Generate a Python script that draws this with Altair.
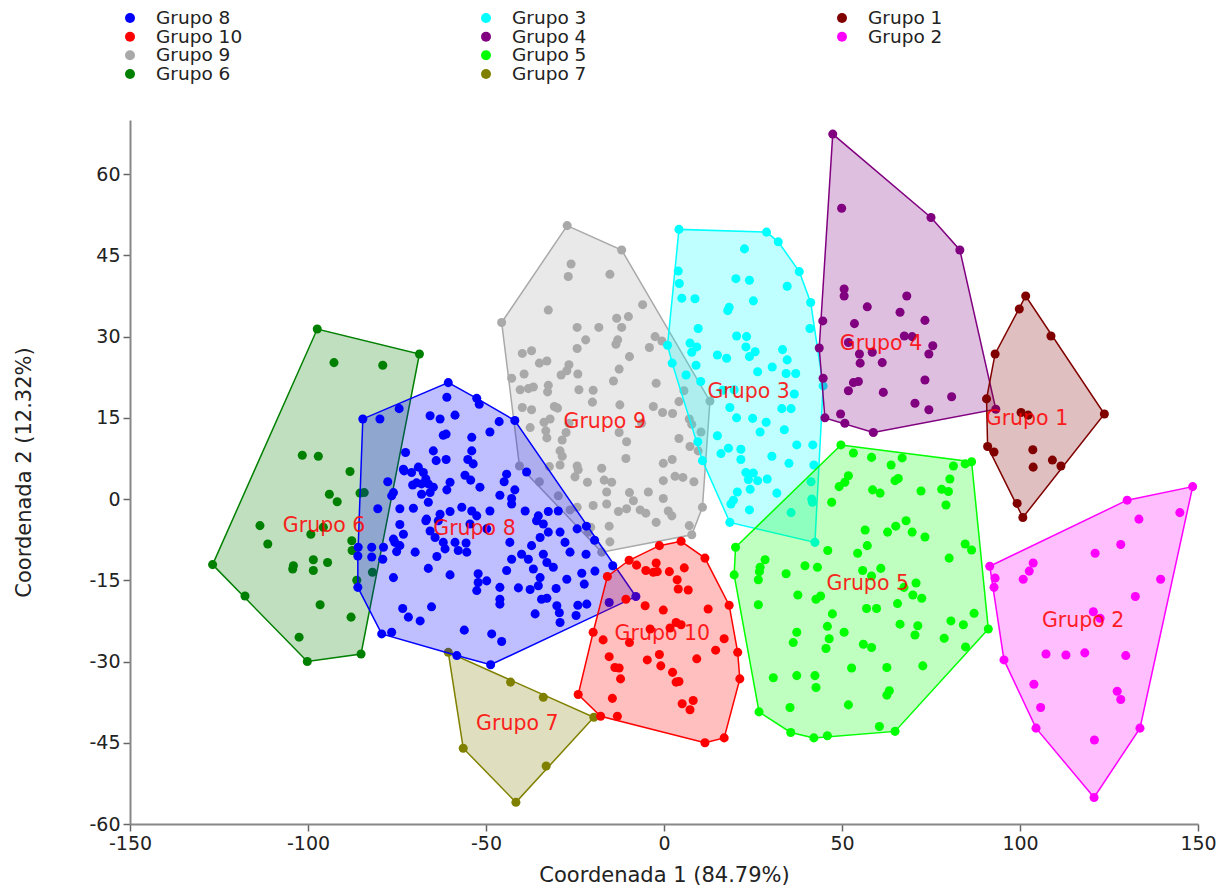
import altair as alt
import pandas as pd

FONT = "DejaVu Sans"

# ---- data ----
G1_X = [101.6, 99.8, 108.7, 93.0, 90.6, 123.7, 100.3, 102.3, 90.9, 92.7, 103.6, 103.7, 109.1, 111.5, 99.2, 100.8]
G1_Y = [37.5, 35.1, 30.1, 26.8, 18.5, 15.7, 16.0, 15.5, 9.7, 8.7, 9.1, 5.9, 7.2, 6.1, -0.8, -3.4]

G2_X = [148.5, 130.1, 133.4, 144.9, 121.1, 128.3, 91.5, 103.7, 102.6, 100.9, 93.0, 92.7, 139.5, 132.4, 120.6,
        122.5, 95.5, 107.3, 112.9, 118.2, 129.7, 103.9, 127.3, 128.3, 105.8, 104.5, 120.9, 133.7, 120.8]
G2_Y = [2.3, -0.2, -3.7, -2.5, -10.0, -8.4, -12.4, -11.8, -13.3, -14.8, -14.6, -16.3, -14.8, -18.0, -20.8,
        -22.0, -29.7, -28.6, -28.8, -28.4, -28.9, -34.2, -35.5, -37.0, -38.5, -42.3, -44.5, -42.3, -55.1]

G3_X = [4.2, 28.8, 32.1, 22.6, 4.0, 38.0, 20.2, 24.0, 4.3, 34.6, 5.0, 8.7, 25.1, 41.2, 18.3, 17.9, 9.6, 41.0,
        20.4, 23.2, 7.3, 9.2, 23.0, 1.0, 7.8, 25.6, 24.0, 33.3, 15.0, 17.6, 34.6, 2.3, 9.0, 30.4, 26.3, 34.3,
        37.0, 6.2, 10.3, 44.7, 16.5, 19.7, 36.6, 18.5, 33.1, 35.7, 20.4, 24.9, 28.7, 27.0, 33.8, 15.0, 9.5,
        37.3, 41.8, 18.1, 16.0, 21.6, 10.8, 21.6, 30.3, 35.1, 42.1, 23.0, 25.1, 23.7, 29.0, 26.3, 41.3, 24.2,
        20.6, 31.7, 19.5, 18.8, 41.5, 24.0, 41.7, 35.7, 18.5, 42.4]
G3_Y = [49.8, 49.3, 47.5, 46.2, 42.1, 42.0, 40.7, 40.4, 39.8, 39.3, 37.1, 37.0, 36.6, 36.3, 35.4, 34.8, 31.5,
        31.5, 30.1, 30.0, 28.8, 28.1, 28.1, 28.4, 27.1, 27.2, 26.3, 27.6, 26.6, 26.0, 25.7, 25.1, 24.7, 24.4,
        23.5, 23.2, 23.2, 22.9, 21.7, 20.9, 20.1, 20.2, 19.4, 16.9, 16.7, 16.7, 15.0, 14.9, 14.2, 12.4, 12.8,
        11.7, 10.6, 10.0, 10.0, 9.4, 8.4, 9.2, 7.1, 7.3, 7.9, 6.6, 6.3, 4.9, 4.8, 3.6, 3.7, 3.4, 3.2, 1.8,
        1.3, 1.1, -0.2, -0.9, 0.0, -2.0, -0.6, -2.5, -4.3, -8.0]

G4_X = [47.4, 49.9, 75.0, 83.1, 50.6, 50.6, 68.2, 57.1, 66.3, 44.6, 53.5, 73.3, 67.5, 69.7, 43.6, 51.8, 54.9,
        58.5, 75.5, 74.4, 55.1, 61.3, 44.7, 53.2, 54.6, 73.3, 51.8, 61.6, 80.8, 70.5, 74.4, 45.2, 49.6, 50.8,
        58.8, 93.2]
G4_Y = [67.4, 53.7, 52.0, 46.0, 38.8, 37.5, 37.5, 35.5, 34.5, 32.9, 32.4, 33.0, 30.1, 30.0, 27.9, 28.9, 26.8,
        27.1, 28.3, 26.8, 25.1, 25.2, 22.3, 21.5, 21.7, 22.0, 20.0, 19.7, 18.9, 17.7, 16.5, 15.0, 15.7, 14.0,
        12.3, 16.6]

G5_X = [49.7, 53.2, 58.3, 66.9, 63.8, 81.3, 84.6, 86.4, 51.8, 49.2, 50.8, 64.9, 65.8, 80.3, 58.6, 60.7, 72.2,
        78.0, 79.9, 47.1, 79.2, 68.0, 65.1, 62.8, 56.5, 69.7, 73.3, 20.1, 46.0, 57.1, 54.4, 84.6, 86.4, 28.4,
        27.0, 26.8, 26.5, 39.6, 43.1, 34.3, 55.8, 60.9, 58.3, 80.1, 19.7, 70.8, 67.4, 37.6, 42.7, 44.0, 69.9,
        72.4, 26.5, 65.6, 56.9, 59.7, 47.3, 87.1, 80.6, 84.1, 91.1, 66.3, 71.3, 70.5, 45.9, 50.6, 37.3, 36.3,
        46.4, 45.5, 56.0, 58.3, 78.7, 84.7, 52.7, 62.6, 72.7, 30.7, 37.3, 42.4, 42.7, 63.3, 62.6, 35.4, 51.8,
        26.7, 35.6, 42.1, 45.9, 60.5, 64.9]
G5_Y = [10.0, 8.5, 7.7, 7.6, 6.3, 6.1, 6.5, 6.9, 4.3, 2.3, 3.1, 3.4, 3.8, 3.7, 1.7, 1.1, 1.5, 1.8, 1.4, -0.6,
        -1.1, -4.0, -5.0, -6.1, -5.7, -6.1, -7.0, -8.9, -9.5, -8.6, -10.0, -8.3, -9.4, -11.2, -12.6, -13.4,
        -14.9, -12.3, -12.6, -13.8, -13.2, -12.8, -14.2, -10.9, -14.0, -15.5, -16.3, -17.7, -18.5, -17.9,
        -17.7, -18.3, -19.5, -19.3, -20.2, -20.2, -21.2, -21.1, -22.5, -23.2, -24.0, -23.1, -23.4, -25.1,
        -23.5, -24.6, -24.6, -26.5, -25.8, -27.6, -26.8, -27.4, -25.7, -27.3, -31.2, -31.1, -30.8, -33.0,
        -32.6, -32.6, -34.8, -35.4, -36.2, -38.5, -38.0, -39.3, -43.1, -44.1, -43.7, -42.0, -42.9]

G6_X = [-97.4, -68.7, -92.7, -79.0, -101.6, -97.1, -88.2, -94.0, -91.8, -85.4, -84.2, -113.5, -99.2, -95.7,
        -111.3, -87.7, -126.8, -104.1, -104.3, -98.5, -98.5, -94.5, -81.9, -86.3, -117.7, -96.6, -87.9,
        -102.5, -100.2, -85.1, -87.6]
G6_Y = [31.4, 26.8, 25.2, 24.7, 8.1, 7.9, 5.1, 0.9, -0.5, 1.1, 1.2, -4.9, -6.5, -5.2, -8.3, -7.7, -12.1,
        -12.3, -12.9, -11.2, -13.2, -11.7, -13.5, -15.0, -17.9, -19.5, -21.8, -25.5, -30.0, -28.6, -9.5]

G7_X = [-60.6, -43.1, -33.9, -19.7, -56.4, -33.1, -41.6]
G7_Y = [-28.3, -33.8, -36.6, -40.3, -46.0, -49.3, -56.0]

G8_X = [-60.6, -61.0, -52.6, -51.9, -74.4, -84.6, -79.8, -65.7, -62.9, -58.7, -41.9, -46.3, -48.9, -62.0,
        -54.0, -72.6, -64.8, -61.2, -54.0, -55.1, -53.6, -64.0, -73.2, -70.9, -69.0, -67.6, -66.9, -38.6,
        -44.2, -55.9, -54.3, -60.1, -77.6, -70.6, -68.1, -66.2, -64.8, -51.7, -61.0, -41.9, -44.9, -76.5,
        -68.1, -46.1, -42.8, -42.8, -66.2, -80.4, -74.2, -70.4, -62.9, -60.1, -56.8, -54.0, -52.6, -48.9,
        -39.0, -35.3, -32.5, -29.7, -66.9, -63.4, -74.2, -65.7, -54.5, -49.8, -35.8, -33.9, -24.4, -21.8,
        -73.2, -64.3, -62.0, -58.7, -55.6, -43.3, -37.2, -34.8, -32.5, -29.2, -27.8, -19.5, -78.8, -75.6,
        -75.1, -69.9, -61.5, -57.8, -55.4, -40.0, -38.1, -33.9, -32.9, -31.1, -26.4, -21.9, -86.0, -82.1,
        -79.0, -63.8, -42.8, -66.2, -60.1, -52.2, -44.2, -36.7, -34.8, -14.4, -23.1, -19.4, -76.0, -52.2,
        -49.8, -46.1, -40.9, -37.6, -35.3, -30.3, -27.3, -22.4, -86.0, -52.6, -46.1, -46.1, -34.4, -32.9,
        -30.1, -24.2, -21.7, -15.4, -7.9, -65.3, -73.4, -71.8, -68.5, -36.2, -29.4, -24.7, -29.2, -79.3,
        -76.5, -56.1, -48.4, -45.6, -58.2, -48.7, -61.2, -73.0, -69.5, -76.0, -65.7, -66.7, -76.0, -74.2,
        -82.1, -85.9]
G8_Y = [21.5, 18.8, 18.6, 17.5, 16.7, 14.8, 14.8, 15.4, 14.8, 15.5, 14.5, 14.3, 12.4, 11.8, 11.4, 8.6, 8.9,
        7.3, 8.9, 7.3, 6.5, 7.1, 5.5, 4.9, 5.9, 4.9, 3.7, 5.0, 4.6, 4.4, 3.5, 3.1, 3.2, 2.6, 2.8, 2.8, 2.2,
        2.2, 1.7, 1.7, 3.2, 0.6, 0.9, 0.7, 0.1, -0.9, -0.6, -1.8, -1.8, -1.7, -2.8, -2.3, -1.5, -2.2, -3.1,
        -2.2, -2.2, -3.1, -2.3, -2.2, -4.0, -4.0, -4.7, -5.9, -4.6, -5.5, -4.0, -4.6, -5.5, -5.0, -6.5, -7.1,
        -8.0, -8.0, -8.1, -8.0, -8.6, -7.1, -6.1, -6.1, -8.0, -7.6, -8.9, -8.0, -9.7, -9.8, -9.2, -9.5, -9.8,
        -10.2, -11.1, -10.2, -11.7, -12.6, -9.8, -10.2, -10.5, -10.7, -11.1, -10.6, -11.1, -12.8, -14.0,
        -13.8, -13.2, -12.9, -14.5, -12.3, -13.7, -13.3, -14.5, -15.4, -15.1, -16.3, -16.4, -16.7, -16.0,
        -16.5, -14.8, -15.7, -16.3, -16.9, -18.5, -19.4, -18.5, -18.3, -19.7, -19.6, -19.4, -19.1, -18.0,
        -19.9, -20.2, -21.8, -22.5, -21.2, -21.0, -21.5, -22.8, -24.9, -24.6, -24.2, -24.9, -26.3, -28.9,
        -30.6, 12.0, 5.2, 3.0, 1.2, 1.2, -3.7, -7.4, -8.6, -8.9, -8.9]

G9_X = [-27.2, -11.9, -26.1, -26.9, -15.2, -45.6, -32.5, -6.0, -13.3, -10.0, -11.9, -24.4, -18.3, -22.0,
        -13.0, -13.5, -2.5, -0.6, -24.4, -4.1, -39.8, -37.2, -9.7, -35.0, -32.9, -26.7, -42.8, -39.3, -28.9,
        -27.3, -24.2, -12.6, -14.2, -2.2, -40.4, -38.1, -36.7, -32.5, -32.7, -23.9, -19.9, -20.1, -12.4,
        -39.8, -37.2, -30.8, -29.9, -3.0, -0.4, 2.4, 4.2, 5.6, -37.6, -33.7, -32.0, -33.2, -26.7, -27.5, -6.3,
        7.1, 7.8, 10.4, -12.6, -10.5, -28.6, -32.9, 4.2, -29.2, -28.6, 7.3, 9.6, -10.7, -0.2, 2.3, -40.6,
        -29.2, -32.2, -24.4, -24.1, -17.5, -25.0, -21.5, -16.8, -14.7, 3.1, 5.3, 8.4, -0.2, -35.0, -29.7,
        -16.1, -9.7, -4.4, -8.6, -0.2, -24.4, -26.4, -19.9, -16.1, -12.8, -10.5, -6.7, -5.1, 1.2, 2.2, 10.8,
        -2.2, -15.4, -20.6, 7.1, 7.8, -15.2, -17.5, 12.9, -21.3]
G9_Y = [50.5, 46.0, 43.4, 41.1, 41.5, 32.6, 34.9, 35.9, 33.4, 33.7, 31.7, 31.7, 31.7, 29.4, 29.4, 28.6,
        30.0, 29.2, 27.8, 28.0, 26.9, 27.4, 26.3, 25.1, 25.5, 24.8, 22.3, 23.1, 22.9, 23.7, 23.1, 24.0, 21.8,
        21.4, 20.2, 20.4, 20.7, 21.0, 19.8, 20.2, 20.1, 17.9, 17.4, 16.9, 16.5, 17.1, 16.8, 17.1, 16.0, 15.8,
        18.0, 20.0, 13.2, 14.2, 14.8, 12.6, 14.0, 12.3, 14.0, 14.8, 13.8, 12.4, 12.3, 10.6, 10.9, 11.3, 11.2,
        8.9, 7.9, 9.7, 8.9, 7.5, 6.6, 7.3, 6.1, 6.3, 6.0, 6.1, 5.4, 5.7, 4.1, 3.1, 3.5, 3.1, 4.2, 4.0, 3.2,
        3.4, 3.2, 0.6, 1.3, 1.2, 1.3, -0.3, 0.1, -1.5, -2.0, -1.2, -0.9, -2.3, -1.8, -2.0, -2.6, -2.2, -3.1,
        -1.5, -4.3, -5.0, -5.2, -4.9, -6.6, -7.9, -9.8, 18.1, -6.1]

G10_X = [-1.3, 4.8, 11.5, -9.8, -7.7, -2.2, -5.1, -3.0, -1.9, 1.5, 5.7, 3.7, 4.0, 6.8, -15.9, -10.7, -5.3,
         -0.2, 12.4, 18.3, 1.7, 3.4, 4.8, -19.9, -17.1, -9.7, -3.9, 16.9, 14.5, 20.7, -1.3, -15.4, -4.7, 9.2,
         -0.9, -13.8, -12.6, -12.2, 2.4, 3.4, 4.2, 21.3, -24.1, -14.5, 5.1, 8.2, 7.3, -17.8, -13.1, 16.9, 11.5]
G10_Y = [-8.6, -7.8, -10.9, -11.3, -12.2, -11.8, -13.2, -13.5, -13.4, -13.4, -12.7, -14.9, -16.6, -16.8,
         -14.3, -18.5, -19.7, -20.5, -20.3, -19.6, -23.8, -22.8, -23.2, -24.6, -26.0, -26.5, -24.0, -25.8,
         -27.9, -28.3, -28.7, -29.1, -29.7, -29.5, -30.8, -31.1, -31.2, -33.2, -32.0, -33.8, -33.7, -33.2,
         -36.1, -36.8, -37.8, -37.2, -38.9, -40.1, -40.1, -44.1, -45.0]

GROUPS = {
    "Grupo 1": (G1_X, G1_Y), "Grupo 2": (G2_X, G2_Y), "Grupo 3": (G3_X, G3_Y),
    "Grupo 4": (G4_X, G4_Y), "Grupo 5": (G5_X, G5_Y), "Grupo 6": (G6_X, G6_Y),
    "Grupo 7": (G7_X, G7_Y), "Grupo 8": (G8_X, G8_Y), "Grupo 9": (G9_X, G9_Y),
    "Grupo 10": (G10_X, G10_Y),
}
COLORS = {
    "Grupo 8": "#0000ff", "Grupo 10": "#ff0000", "Grupo 9": "#a9a9a9", "Grupo 6": "#008000",
    "Grupo 3": "#00ffff", "Grupo 4": "#800080", "Grupo 5": "#00ff00", "Grupo 7": "#808000",
    "Grupo 1": "#800000", "Grupo 2": "#ff00ff",
}
LEGEND_ORDER = ["Grupo 8", "Grupo 10", "Grupo 9", "Grupo 6", "Grupo 3", "Grupo 4",
                "Grupo 5", "Grupo 7", "Grupo 1", "Grupo 2"]
DRAW_ORDER = ["Grupo 6", "Grupo 9", "Grupo 3", "Grupo 4", "Grupo 1", "Grupo 2",
              "Grupo 5", "Grupo 7", "Grupo 8", "Grupo 10"]
X_TICKS = [-150, -100, -50, 0, 50, 100, 150]
Y_TICKS = [-60, -45, -30, -15, 0, 15, 30, 45, 60]


def convex_hull(points):
    pts = sorted(set(points))
    if len(pts) <= 2:
        return pts

    def cross(o, a, b):
        return (a[0] - o[0]) * (b[1] - o[1]) - (a[1] - o[1]) * (b[0] - o[0])

    lower, upper = [], []
    for p in pts:
        while len(lower) >= 2 and cross(lower[-2], lower[-1], p) <= 0:
            lower.pop()
        lower.append(p)
    for p in reversed(pts):
        while len(upper) >= 2 and cross(upper[-2], upper[-1], p) <= 0:
            upper.pop()
        upper.append(p)
    return lower[:-1] + upper[:-1]


x_axis = alt.Axis(values=X_TICKS, title="Coordenada 1 (84.79%)", grid=False, tickSize=7,
                  tickColor="#666666", tickWidth=1.5, domainColor="#888888", domainWidth=2,
                  labelFont=FONT, labelFontSize=19, labelColor="#222222", labelPadding=3,
                  labelExpr="'' + datum.value", labelFlush=False, labelOverlap=False,
                  titleFont=FONT, titleFontSize=21, titleFontWeight="normal",
                  titleColor="#222222", titlePadding=11)
y_axis = alt.Axis(values=Y_TICKS, title="Coordenada 2 (12.32%)", grid=False, tickSize=7,
                  tickColor="#666666", tickWidth=1.5, domainColor="#888888", domainWidth=2,
                  labelFont=FONT, labelFontSize=19, labelColor="#222222", labelPadding=3,
                  labelExpr="'' + datum.value", labelFlush=False, labelOverlap=False,
                  titleFont=FONT, titleFontSize=21, titleFontWeight="normal",
                  titleColor="#222222", titlePadding=54)

X_ENC = alt.X("x:Q", scale=alt.Scale(domain=[-150, 150], nice=False, zero=False), axis=x_axis)
Y_ENC = alt.Y("y:Q", scale=alt.Scale(domain=[-60, 70], nice=False, zero=False), axis=y_axis)

layers = []
for g in DRAW_ORDER:
    xs, ys = GROUPS[g]
    c = COLORS[g]
    hull = convex_hull(list(zip(xs, ys)))
    hdf = pd.DataFrame({"x": [p[0] for p in hull], "y": [p[1] for p in hull],
                        "o": list(range(len(hull)))})
    pdf = pd.DataFrame({"x": xs, "y": ys})
    layers.append(
        alt.Chart(hdf).mark_line(interpolate="linear-closed", color=c, fill=c, fillOpacity=0.25,
                                 strokeWidth=1.5).encode(x=X_ENC, y=Y_ENC, order="o:Q")
    )
    layers.append(
        alt.Chart(pdf).mark_circle(color=c, size=82, opacity=1).encode(x=X_ENC, y=Y_ENC)
    )

cent = pd.DataFrame({
    "g": list(GROUPS.keys()),
    "x": [sum(v[0]) / len(v[0]) for v in GROUPS.values()],
    "y": [sum(v[1]) / len(v[1]) for v in GROUPS.values()],
})
layers.append(
    alt.Chart(cent).mark_text(color="#ff0000", fontSize=20.5, font=FONT, opacity=0.85)
    .encode(x=X_ENC, y=Y_ENC, text="g:N")
)
main = alt.layer(*layers)

leg = pd.DataFrame({
    "g": LEGEND_ORDER,
    "col": [i // 4 for i in range(len(LEGEND_ORDER))],
    "row": [i % 4 for i in range(len(LEGEND_ORDER))],
})
LX = alt.X("col:Q", scale=alt.Scale(domain=[0, 3], nice=False, zero=False), axis=None)
LY = alt.Y("row:Q", scale=alt.Scale(domain=[0, 3], range=[-102, -46], nice=False, zero=False),
           axis=None)
leg_dots = alt.Chart(leg).mark_circle(size=100, opacity=1).encode(
    x=LX, y=LY,
    color=alt.Color("g:N", scale=alt.Scale(domain=LEGEND_ORDER,
                                           range=[COLORS[g] for g in LEGEND_ORDER]), legend=None),
)
leg_text = alt.Chart(leg).mark_text(align="left", baseline="middle", dx=26, fontSize=18.5,
                                    font=FONT, color="#222222").encode(x=LX, y=LY, text="g:N")
legend = alt.layer(leg_dots, leg_text)

chart = (
    alt.layer(main, legend)
    .resolve_scale(x="independent", y="independent", color="independent")
    .properties(width=1068, height=704,
                padding={"left": 5, "top": 1, "right": 5, "bottom": 0})
    .configure_view(stroke=None)
)

chart.save("out.html", embed_options={"renderer": "svg", "actions": False})
